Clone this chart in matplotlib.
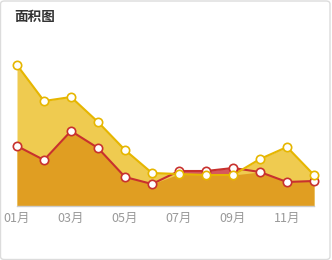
import matplotlib
matplotlib.use("Agg")
import matplotlib.pyplot as plt
import numpy as np
from matplotlib.patches import FancyBboxPatch

plt.rcParams["font.family"] = ["Noto Sans CJK SC", "DejaVu Sans"]

# ── Data ──────────────────────────────────────────────────────────────────────
months = ["01月", "02月", "03月", "04月", "05月", "06月",
          "07月", "08月", "09月", "10月", "11月", "12月"]
series_a = [141, 105, 109, 84, 56, 33, 32, 31, 31, 47, 59, 31]   # yellow
series_b = [60, 46, 75, 58, 29, 22, 35, 35, 38, 34, 24, 25]      # red

YELLOW_LINE = "#E6B600"
YELLOW_FILL = "#EFCB50"
RED_LINE = "#C8312E"
ORANGE_FILL = "#E09E22"
PINK_FILL = "#D6585C"

# ── Figure & card ─────────────────────────────────────────────────────────────
fig = plt.figure(figsize=(3.32, 2.6), dpi=100)
fig.patch.set_facecolor("white")
card = FancyBboxPatch((0.5 / 332, 0.5 / 260), 329.5 / 332, 258.5 / 260,
                      boxstyle="round,pad=0,rounding_size=0.012",
                      transform=fig.transFigure, facecolor="white",
                      edgecolor="#dcdcdc", linewidth=1.0, zorder=-10)
fig.patches.append(card)
fig.text(14 / 332, 1 - 17 / 260, "面积图", fontsize=9.8, fontweight="bold",
         color="#333333", va="center", ha="left")

ax = fig.add_axes([17 / 332, 54 / 260, 297 / 332, 186 / 260])
ax.set_zorder(1)
x = np.arange(len(months))
a = np.array(series_a)
b = np.array(series_b)

ax.fill_between(x, 0, a, color=YELLOW_FILL, linewidth=0, zorder=1)
ax.fill_between(x, 0, np.minimum(a, b), color=ORANGE_FILL, linewidth=0, zorder=2)
ax.fill_between(x, a, b, where=b > a, interpolate=True, color=PINK_FILL,
                linewidth=0, zorder=2)

ax.plot(x, b, color=RED_LINE, lw=1.5, zorder=3)
ax.plot(x, a, color=YELLOW_LINE, lw=1.5, zorder=4)
ax.plot(x, b, "o", ms=6, mfc="white", mec=RED_LINE, mew=1.2, zorder=5,
        clip_on=False)
ax.plot(x, a, "o", ms=6, mfc="white", mec=YELLOW_LINE, mew=1.2, zorder=6,
        clip_on=False)

ax.set_xlim(0, len(months) - 1)
ax.set_ylim(0, 186)
for side in ["top", "right", "left"]:
    ax.spines[side].set_visible(False)
ax.spines["bottom"].set_color("#cccccc")
ax.spines["bottom"].set_linewidth(1.0)
ax.set_yticks([])
ax.set_xticks(x[::2])
ax.set_xticklabels(months[::2], fontsize=9, color="#999999")
ax.tick_params(axis="x", length=0, pad=4)
ax.set_facecolor("none")

fig.savefig("out.png", dpi=100)
